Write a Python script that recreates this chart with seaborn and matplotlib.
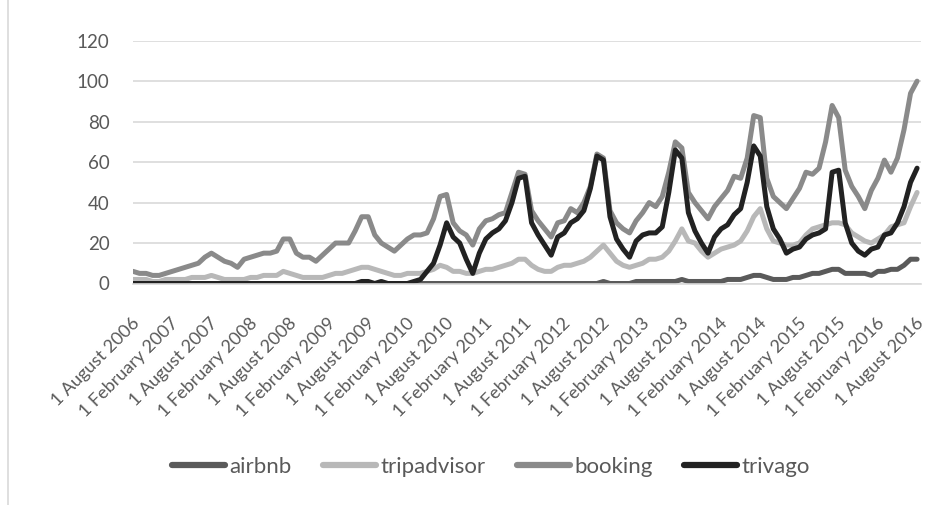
import numpy as np
import pandas as pd
import matplotlib
matplotlib.use("Agg")
import matplotlib.pyplot as plt
import matplotlib.transforms as mtransforms
from matplotlib.lines import Line2D
import seaborn as sns

# ========== data (monthly search interest, Aug 2006 - Aug 2016) ==========
series_names = ["airbnb", "tripadvisor", "booking", "trivago"]
series_colors = ["#5a5a5a", "#b8b8b8", "#8a8a8a", "#222222"]

airbnb = ([0] * 72 +
          [1, 0, 0, 0, 0, 1, 1, 1, 1, 1, 1, 1,
           2, 1, 1, 1, 1, 1, 1, 2, 2, 2, 3, 4,
           4, 3, 2, 2, 2, 3, 3, 4, 5, 5, 6, 7,
           7, 5, 5, 5, 5, 4, 6, 6, 7, 7, 9, 12,
           12])

tripadvisor = [2, 2, 2, 1, 1, 2, 2, 2, 2, 3, 3, 3,
               4, 3, 2, 2, 2, 2, 3, 3, 4, 4, 4, 6,
               5, 4, 3, 3, 3, 3, 4, 5, 5, 6, 7, 8,
               8, 7, 6, 5, 4, 4, 5, 5, 5, 6, 7, 9,
               8, 6, 6, 5, 5, 6, 7, 7, 8, 9, 10, 12,
               12, 9, 7, 6, 6, 8, 9, 9, 10, 11, 13, 16,
               19, 15, 11, 9, 8, 9, 10, 12, 12, 13, 16, 21,
               27, 21, 20, 16, 13, 15, 17, 18, 19, 21, 26, 33,
               37, 27, 21, 20, 19, 19, 20, 24, 27, 28, 29, 30,
               30, 29, 25, 23, 21, 20, 22, 24, 28, 29, 30, 38,
               45]

booking = [6, 5, 5, 4, 4, 5, 6, 7, 8, 9, 10, 13,
           15, 13, 11, 10, 8, 12, 13, 14, 15, 15, 16, 22,
           22, 15, 13, 13, 11, 14, 17, 20, 20, 20, 26, 33,
           33, 24, 20, 18, 16, 19, 22, 24, 24, 25, 32, 43,
           44, 30, 26, 24, 19, 27, 31, 32, 34, 35, 45, 55,
           54, 36, 31, 27, 23, 30, 31, 37, 35, 40, 48, 64,
           62, 36, 30, 27, 25, 31, 35, 40, 38, 43, 55, 70,
           67, 45, 40, 36, 32, 38, 42, 46, 53, 52, 62, 83,
           82, 52, 43, 40, 37, 42, 47, 55, 54, 57, 70, 88,
           82, 56, 48, 43, 37, 46, 52, 61, 55, 62, 76, 94,
           100]

trivago = ([0] * 35 +
           [1,
            1, 0, 1, 0, 0, 0, 0, 1, 2, 6, 10, 19,
            30, 23, 20, 12, 5, 15, 22, 25, 27, 31, 40, 52,
            53, 30, 24, 19, 14, 23, 25, 30, 32, 36, 47, 63,
            61, 33, 22, 17, 13, 21, 24, 25, 25, 28, 45, 66,
            62, 35, 26, 20, 15, 23, 27, 29, 34, 37, 50, 68,
            63, 38, 27, 22, 15, 17, 18, 22, 24, 25, 27, 55,
            56, 30, 20, 16, 14, 17, 18, 24, 25, 30, 38, 50,
            57])

tick_labels = ["1 August 2006", "1 February 2007", "1 August 2007", "1 February 2008",
               "1 August 2008", "1 February 2009", "1 August 2009", "1 February 2010",
               "1 August 2010", "1 February 2011", "1 August 2011", "1 February 2012",
               "1 August 2012", "1 February 2013", "1 August 2013", "1 February 2014",
               "1 August 2014", "1 February 2015", "1 August 2015", "1 February 2016",
               "1 August 2016"]

# ========== long-form table ==========
values = [airbnb, tripadvisor, booking, trivago]
frames = []
for name, vals in zip(series_names, values):
    frames.append(pd.DataFrame({"month": np.arange(len(vals)), "value": vals, "series": name}))
df = pd.concat(frames, ignore_index=True)

# ========== figure ==========
sns.set_theme(style="white")
plt.rcParams["font.family"] = ["Lato", "DejaVu Sans"]
text_color = "#595959"
grid_color = "#d9d9d9"

fig = plt.figure(figsize=(9.53, 5.05), dpi=100)
ax = fig.add_axes([133 / 953, 1 - 283.5 / 505, (921 - 133) / 953, (283.5 - 40.7) / 505])

sns.lineplot(data=df, x="month", y="value", hue="series", hue_order=series_names,
             palette=dict(zip(series_names, series_colors)), linewidth=3.6,
             legend=False, ax=ax)
for ln in ax.lines:
    ln.set_solid_joinstyle("round")
    ln.set_solid_capstyle("round")

ax.set_xlim(0, 120.6)
ax.set_ylim(0, 120)
ax.set_yticks(np.arange(0, 121, 20))
ax.yaxis.grid(True, color=grid_color, linewidth=1.2)
ax.set_axisbelow(True)
for s in ["top", "right", "left"]:
    ax.spines[s].set_visible(False)
ax.spines["bottom"].set_color(grid_color)
ax.spines["bottom"].set_linewidth(1.2)

ax.set_xticks(np.arange(0, 121, 6))
ax.set_xticklabels(tick_labels, rotation=45, ha="right", va="center",
                   rotation_mode="anchor")
ax.tick_params(axis="x", direction="out", length=4, width=1, color=grid_color,
               labelsize=13, labelcolor=text_color, pad=23)
ax.tick_params(axis="y", length=0, labelsize=13.5, labelcolor=text_color, pad=17)
offset = mtransforms.ScaledTranslation(4 / 100, 0, fig.dpi_scale_trans)
for lab in ax.get_xticklabels():
    lab.set_transform(lab.get_transform() + offset)
ax.set_xlabel("")
ax.set_ylabel("")

# chart border (left edge visible)
fig.add_artist(Line2D([8 / 953, 8 / 953], [0, 1], color=grid_color, linewidth=1.2))

handles = [Line2D([0], [0], color=c, linewidth=4.5) for c in series_colors]
fig.legend(handles, series_names, loc="center", bbox_to_anchor=(0.515, 0.075),
           ncol=4, frameon=False, fontsize=16, labelcolor=text_color,
           handlelength=2.4, handletextpad=0.2, columnspacing=1.4)

fig.savefig("out.png", dpi=100)
plt.close(fig)
